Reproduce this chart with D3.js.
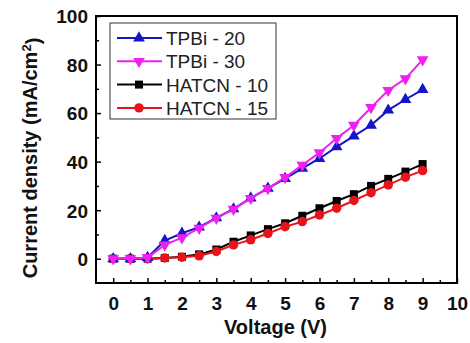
<!DOCTYPE html>
<html>
<head>
<meta charset="utf-8">
<script src="https://cdn.jsdelivr.net/npm/d3@7"></script>
<style>
  body { margin: 0; background: #fff; }
  svg text { font-family: Arial, "Liberation Sans", sans-serif; }
</style>
</head>
<body>
<svg id="chart" width="470" height="343"></svg>
<script>
// voltage steps (V)
const voltage = [0, 0.5, 1, 1.5, 2, 2.5, 3, 3.5, 4, 4.5, 5, 5.5, 6, 6.5, 7, 7.5, 8, 8.5, 9];

// current density (mA/cm2)
const tpbi20  = [0, 0, 0.5, 7.5, 10.5, 13, 16.8, 20.5, 25, 29, 33, 37.2, 41.3, 46.1, 50.5, 55, 61.2, 65.6, 69.7];
const tpbi30  = [0, 0, 0.5, 5.7, 8.7, 12.6, 16.7, 20.4, 24.9, 29, 33.5, 38.6, 43.7, 49.6, 55, 62.3, 69.4, 74.2, 82];
const hatcn10 = [0, 0, 0, 0.3, 0.8, 1.8, 3.8, 7, 9.6, 12.2, 14.6, 17.7, 20.8, 23.8, 26.6, 30, 32.9, 35.9, 39];
const hatcn15 = [0, 0, 0, 0.3, 0.6, 1.2, 3, 5.7, 7.8, 10.4, 13.2, 15.3, 18, 20.8, 24, 27.2, 30.4, 33.6, 36.3];

const seriesNames = ["TPBi - 20", "TPBi - 30", "HATCN - 10", "HATCN - 15"];

const xTicks = [0, 1, 2, 3, 4, 5, 6, 7, 8, 9, 10];
const yTicks = [0, 20, 40, 60, 80, 100];

const series = [
  { name: seriesNames[2], values: hatcn10, color: "#000000", symbol: d3.symbolSquare, size: 64, rot: 0 },
  { name: seriesNames[3], values: hatcn15, color: "#e8141c", symbol: d3.symbolCircle, size: 70, rot: 0 },
  { name: seriesNames[0], values: tpbi20,  color: "#1414c8", symbol: d3.symbolTriangle, size: 60, rot: 0 },
  { name: seriesNames[1], values: tpbi30,  color: "#f020f0", symbol: d3.symbolTriangle, size: 60, rot: 180 }
];
const legendOrder = [2, 3, 0, 1];

const svg = d3.select("#chart");
const margin = { left: 96, right: 457, top: 16, bottom: 283 };

const x = d3.scaleLinear().domain([-0.5, 10]).range([margin.left, margin.right]);
const y = d3.scaleLinear().domain([-10, 100]).range([margin.bottom, margin.top]);

// minor ticks (inward)
const xMinor = d3.range(0.5, 10, 1);
const yMinor = d3.range(10, 100, 20);

const bottomAxis = svg.append("g").attr("transform", `translate(0,${margin.bottom})`);
bottomAxis.call(d3.axisBottom(x).tickValues(xTicks).tickSize(-5).tickPadding(14).tickFormat(d3.format("d")));
bottomAxis.append("g").call(d3.axisBottom(x).tickValues(xMinor).tickSize(-3).tickFormat(""));

const leftAxis = svg.append("g").attr("transform", `translate(${margin.left},0)`);
leftAxis.call(d3.axisLeft(y).tickValues(yTicks).tickSize(-5).tickPadding(8).tickFormat(d3.format("d")));
leftAxis.append("g").call(d3.axisLeft(y).tickValues(yMinor).tickSize(-3).tickFormat(""));

svg.selectAll(".domain").remove();
svg.selectAll(".tick line").attr("stroke", "#000").attr("stroke-width", 1.5);
svg.selectAll(".tick text")
  .attr("fill", "#111")
  .style("font-weight", "bold")
  .style("font-size", "19px");
leftAxis.selectAll(".tick text").attr("dy", "0.36em");
bottomAxis.selectAll(".tick text").attr("dy", "0.71em");

// frame
svg.append("rect")
  .attr("x", margin.left).attr("y", margin.top)
  .attr("width", margin.right - margin.left)
  .attr("height", margin.bottom - margin.top)
  .attr("fill", "none").attr("stroke", "#000").attr("stroke-width", 2);

// data
const line = d3.line().x((d, i) => x(voltage[i])).y(d => y(d));

const plot = svg.append("g");
series.forEach(s => {
  plot.append("path")
    .attr("d", line(s.values))
    .attr("fill", "none")
    .attr("stroke", s.color)
    .attr("stroke-width", 2);
  plot.selectAll(null)
    .data(s.values)
    .enter().append("path")
    .attr("d", d3.symbol().type(s.symbol).size(s.size))
    .attr("transform", (d, i) => `translate(${x(voltage[i])},${y(d)}) rotate(${s.rot})`)
    .attr("fill", s.color);
});

// legend
const legend = svg.append("g");
legend.append("rect")
  .attr("x", 110).attr("y", 23).attr("width", 166).attr("height", 96)
  .attr("fill", "#fff").attr("stroke", "#333").attr("stroke-width", 1);

legendOrder.forEach((k, j) => {
  const s = series[k];
  const cy = 38 + j * 23.3;
  legend.append("line")
    .attr("x1", 117).attr("x2", 162).attr("y1", cy).attr("y2", cy)
    .attr("stroke", s.color).attr("stroke-width", 2);
  legend.append("path")
    .attr("d", d3.symbol().type(s.symbol).size(s.size))
    .attr("transform", `translate(139,${cy}) rotate(${s.rot})`)
    .attr("fill", s.color);
  legend.append("text")
    .attr("x", 166).attr("y", cy + 7)
    .attr("fill", "#222")
    .style("font-size", "19px")
    .text(s.name);
});

// axis titles
svg.append("text")
  .attr("x", (margin.left + margin.right) / 2 - 1)
  .attr("y", 334)
  .attr("text-anchor", "middle")
  .style("font-weight", "bold").style("font-size", "20px")
  .attr("fill", "#111")
  .text("Voltage (V)");

const yTitle = svg.append("text")
  .attr("transform", "translate(37,158) rotate(-90)")
  .attr("text-anchor", "middle")
  .style("font-weight", "bold").style("font-size", "20px")
  .attr("fill", "#111");
yTitle.append("tspan").text("Current density (mA/cm");
yTitle.append("tspan").attr("dy", "-0.45em").style("font-size", "13px").text("2");
yTitle.append("tspan").attr("dy", "0.45em").text(")");
</script>
</body>
</html>
